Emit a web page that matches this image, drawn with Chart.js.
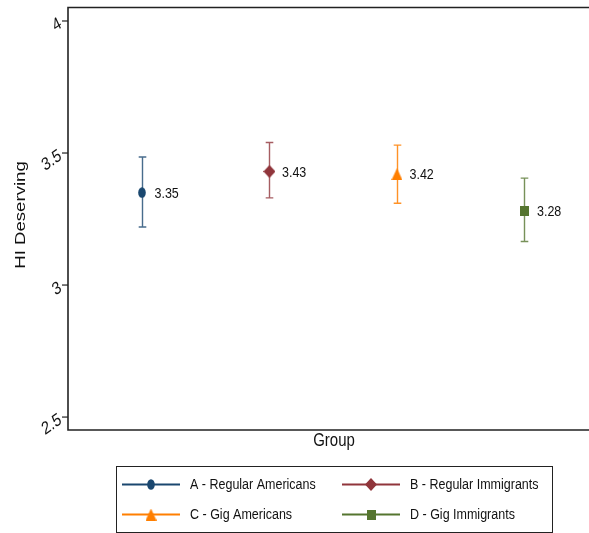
<!DOCTYPE html>
<html>
<head>
<meta charset="utf-8">
<script src="https://cdn.jsdelivr.net/npm/chart.js@4/dist/chart.umd.min.js"></script>
<style>
  html, body { margin: 0; padding: 0; background: #fff; overflow: hidden; }
  #c { display: block; }
</style>
</head>
<body>
<canvas id="c" width="589" height="533"></canvas>
<script>
// Group means of "HI Deserving" with confidence intervals
const categories = ['A - Regular Americans', 'B - Regular Immigrants', 'C - Gig Americans', 'D - Gig Immigrants'];
const groupPos = [1, 2, 3, 4];
const means = [3.35, 3.43, 3.42, 3.28];
const lowerCI = [3.22, 3.33, 3.31, 3.165];
const upperCI = [3.485, 3.54, 3.53, 3.405];
const yTicks = [2.5, 3, 3.5, 4];
const yTitle = 'HI Deserving';
const xTitle = 'Group';

const seriesColors = ['#1a476f', '#90353b', '#ff7f00', '#55752f'];
const barColors = ['rgba(26,71,111,0.8)', 'rgba(144,53,59,0.8)', 'rgba(255,127,0,0.85)', 'rgba(85,117,47,0.8)'];
const markerShapes = ['circle', 'diamond', 'triangle', 'square'];

const SY = 1.24; // vertical text stretch
const FONT = '"Liberation Sans", Arial, Helvetica, sans-serif';
const INK = '#111';

function makeMarker(shape, color) {
  const dims = { circle: [8, 11], diamond: [12, 13], triangle: [11, 12], square: [9, 10] }[shape];
  const cv = document.createElement('canvas');
  cv.width = dims[0]; cv.height = dims[1];
  const g = cv.getContext('2d');
  const w = dims[0], h = dims[1];
  g.fillStyle = color;
  g.beginPath();
  if (shape === 'circle') {
    g.ellipse(w / 2, h / 2, w / 2 - 0.2, h / 2 - 0.2, 0, 0, Math.PI * 2);
  } else if (shape === 'diamond') {
    g.moveTo(w / 2, 0); g.lineTo(w, h / 2); g.lineTo(w / 2, h); g.lineTo(0, h / 2);
  } else if (shape === 'triangle') {
    g.moveTo(w / 2, 0); g.lineTo(w, h); g.lineTo(0, h);
  } else {
    g.rect(0, 0, w, h);
  }
  g.closePath();
  g.fill();
  return cv;
}

const markers = markerShapes.map((s, i) => makeMarker(s, seriesColors[i]));

function stretchText(ctx, txt, x, y, o) {
  ctx.save();
  ctx.translate(x, y);
  ctx.scale(1, o.sy || SY);
  if (o.angle) ctx.rotate(o.angle);
  ctx.font = o.size + 'px ' + FONT;
  ctx.fillStyle = INK;
  ctx.textAlign = o.align || 'left';
  ctx.textBaseline = o.baseline || 'middle';
  ctx.fillText(txt, 0, 0);
  ctx.restore();
}

const decorations = {
  id: 'decorations',
  beforeDatasetsDraw(chart) {
    const ctx = chart.ctx;
    const xs = chart.scales.x, ys = chart.scales.y;
    ctx.save();
    groupPos.forEach((gx, i) => {
      const x = Math.round(xs.getPixelForValue(gx)) + 0.5;
      const yl = ys.getPixelForValue(lowerCI[i]);
      const yu = ys.getPixelForValue(upperCI[i]);
      ctx.strokeStyle = barColors[i];
      ctx.lineWidth = 1.4;
      ctx.beginPath();
      ctx.moveTo(x, yu); ctx.lineTo(x, yl);
      ctx.moveTo(x - 3.8, yu); ctx.lineTo(x + 3.8, yu);
      ctx.moveTo(x - 3.8, yl); ctx.lineTo(x + 3.8, yl);
      ctx.stroke();
    });
    ctx.restore();
  },
  afterDraw(chart) {
    const ctx = chart.ctx;
    const a = chart.chartArea;
    const ys = chart.scales.y;

    // plot region frame: top, left, bottom
    ctx.save();
    ctx.strokeStyle = '#222';
    ctx.lineWidth = 1.6;
    ctx.beginPath();
    ctx.moveTo(a.right + 2, a.top + 0.5); ctx.lineTo(a.left, a.top + 0.5);
    ctx.lineTo(a.left, a.bottom); ctx.lineTo(a.right + 2, a.bottom);
    ctx.stroke();

    // y ticks and rotated labels
    ctx.lineWidth = 1.2;
    yTicks.forEach(v => {
      const y = ys.getPixelForValue(v);
      ctx.beginPath();
      ctx.moveTo(a.left - 6, y); ctx.lineTo(a.left, y);
      ctx.stroke();
      stretchText(ctx, String(v), a.left - 7.5, y + 1.5, { size: 14.5, align: 'right', angle: -Math.PI / 6 });
    });
    ctx.restore();

    // axis titles
    stretchText(ctx, yTitle, 21, 215, { size: 15, align: 'center', angle: -Math.PI / 2 });
    stretchText(ctx, xTitle, 334, 441, { size: 15, align: 'center' });

    // value labels next to markers
    chart.data.datasets.forEach((ds, i) => {
      const el = chart.getDatasetMeta(i).data[0];
      stretchText(ctx, means[i].toFixed(2), el.x + 12.5, el.y + 1, { size: 12.5 });
    });

    // legend
    ctx.save();
    ctx.strokeStyle = '#222';
    ctx.lineWidth = 1;
    ctx.strokeRect(116.5, 466.5, 436, 66);
    const cols = [122, 342];
    const rows = [484.5, 514.5];
    categories.forEach((lab, i) => {
      const lx = cols[i % 2], ly = rows[Math.floor(i / 2)];
      ctx.strokeStyle = seriesColors[i];
      ctx.lineWidth = 1.8;
      ctx.beginPath();
      ctx.moveTo(lx, ly); ctx.lineTo(lx + 58, ly);
      ctx.stroke();
      const m = markers[i];
      ctx.drawImage(m, lx + 29 - m.width / 2, ly - m.height / 2);
      stretchText(ctx, lab, lx + 68, ly, { size: 12.5 });
    });
    ctx.restore();
  }
};

const datasets = categories.map((lab, i) => ({
  label: lab,
  data: [{ x: groupPos[i], y: means[i] }],
  pointStyle: markers[i],
  pointRadius: 6,
  pointHoverRadius: 6,
  showLine: false
}));

new Chart(document.getElementById('c'), {
  type: 'scatter',
  data: { datasets },
  options: {
    responsive: false,
    animation: false,
    events: [],
    layout: { autoPadding: false, padding: { left: 68, top: 7, right: 0, bottom: 103 } },
    plugins: { legend: { display: false }, tooltip: { enabled: false } },
    scales: {
      x: { type: 'linear', min: 0.42, max: 4.506, display: false },
      y: { type: 'linear', min: 2.451, max: 4.053, display: false }
    }
  },
  plugins: [decorations]
});
</script>
</body>
</html>
